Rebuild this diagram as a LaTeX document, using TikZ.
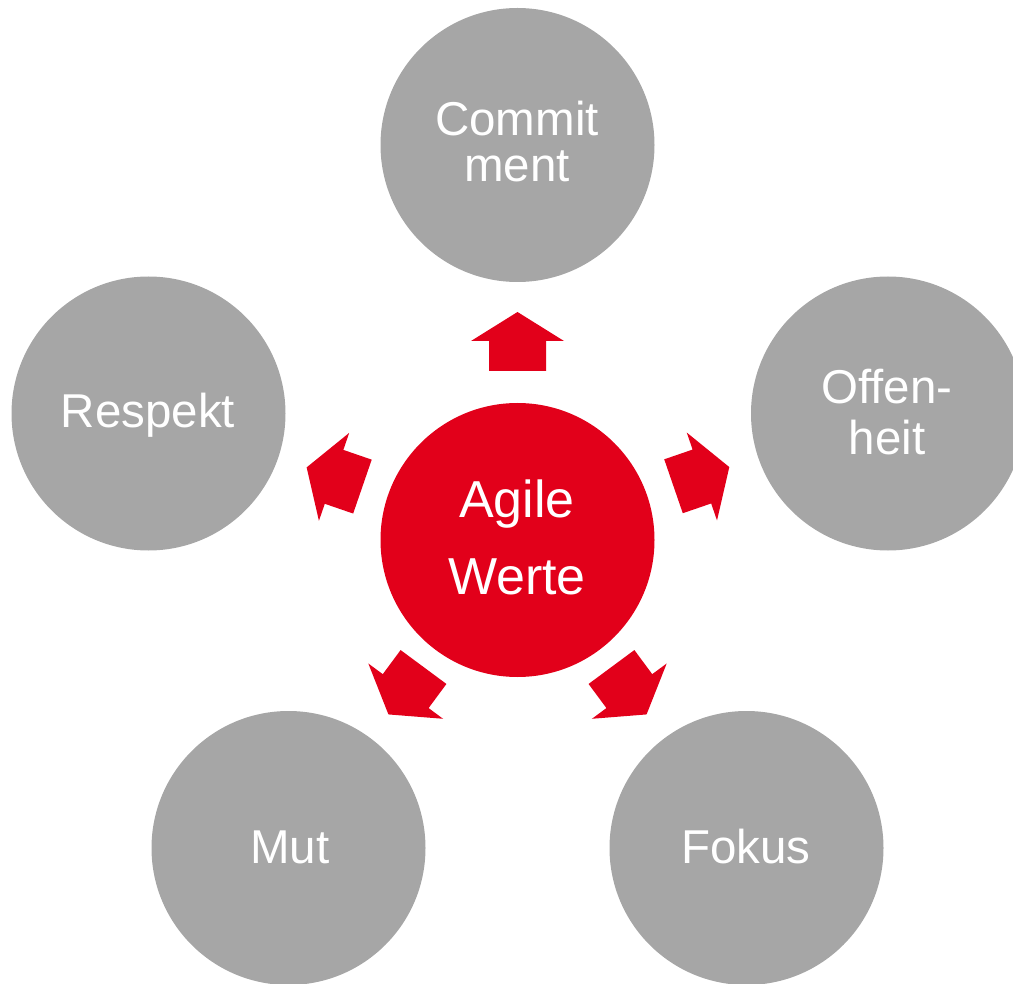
\documentclass[tikz,border=0pt]{standalone}
\usepackage{fontspec}
\setmainfont{Liberation Sans}
\definecolor{agred}{HTML}{E2001A}
\definecolor{aggray}{HTML}{A6A6A6}
\newcommand\blockarr[2]{%
  \begin{scope}[shift={(c0.center)}, rotate=#1]
    \fill[blockarrow] ({#2-59},-28.5) -- ({#2-29},-28.5) -- ({#2-29},-46.5) -- (#2,0)
      -- ({#2-29},46.5) -- ({#2-29},28.5) -- ({#2-59},28.5) -- cycle;
  \end{scope}}
\begin{document}
\begin{tikzpicture}[x=1pt,y=1pt,
  circ/.style={circle, inner sep=0pt, minimum size=274pt, fill=aggray},
  core/.style={circ, fill=agred},
  lbl/.style={text=white, inner sep=0pt, anchor=base, font=\fontsize{47.5}{47.5}\selectfont},
  corelbl/.style={lbl, font=\fontsize{52}{52}\selectfont},
  topline/.style={text depth=0pt},
  lowline/.style={text height=32pt},
  blockarrow/.style={fill=agred}]
\useasboundingbox (0,0) rectangle (1013,-984);
\node[core] (c0) at (517.5,-540) {};
\node[circ] (c1) at (517.5,-145) {};
\node[circ] (c2) at (888,-413.5) {};
\node[circ] (c3) at (746.5,-848) {};
\node[circ] (c4) at (288.5,-848) {};
\node[circ] (c5) at (148.5,-413.5) {};
\blockarr{90}{228}
\blockarr{19}{224}
\blockarr{-53.5}{217}
\blockarr{-126.5}{217}
\blockarr{161}{223}
\node[corelbl] (t0a) at (517,-517) {Agile};
\node[corelbl] (t0b) at (517,-594) {Werte};
\node[lbl, topline] (t1a) at (517,-136) {Commit};
\node[lbl, lowline] (t1b) at (517,-182) {ment};
\node[lbl, topline] (t2a) at (887,-404) {Offen-};
\node[lbl, lowline] (t2b) at (887,-454) {heit};
\node[lbl] (t3) at (746,-863) {Fokus};
\node[lbl] (t4) at (290,-863) {Mut};
\node[lbl] (t5) at (148,-428) {Respekt};
\end{tikzpicture}
\end{document}
